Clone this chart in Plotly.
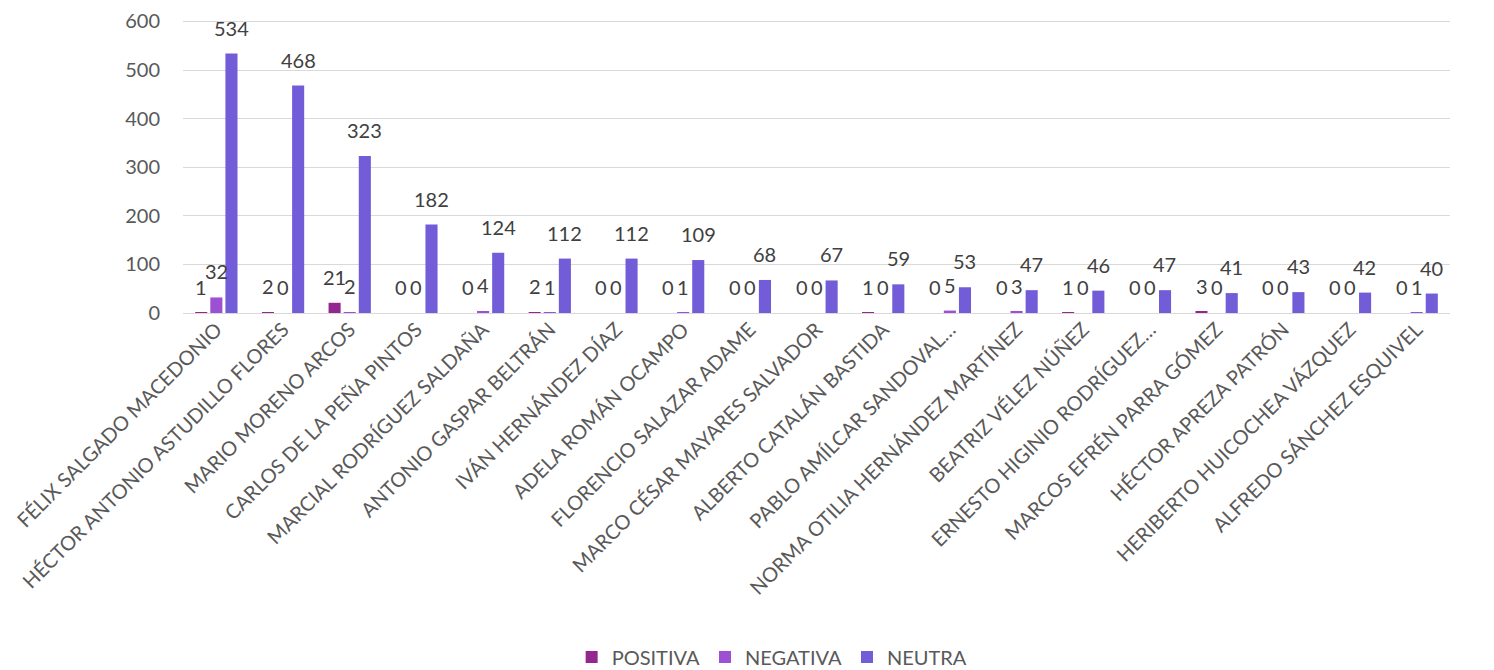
import plotly.graph_objects as go

categories = [
    "FÉLIX SALGADO MACEDONIO",
    "HÉCTOR ANTONIO ASTUDILLO FLORES",
    "MARIO MORENO ARCOS",
    "CARLOS DE LA PEÑA PINTOS",
    "MARCIAL RODRÍGUEZ SALDAÑA",
    "ANTONIO GASPAR BELTRÁN",
    "IVÁN HERNÁNDEZ DÍAZ",
    "ADELA ROMÁN OCAMPO",
    "FLORENCIO SALAZAR ADAME",
    "MARCO CÉSAR MAYARES SALVADOR",
    "ALBERTO CATALÁN BASTIDA",
    "PABLO AMÍLCAR SANDOVAL…",
    "NORMA OTILIA HERNÁNDEZ MARTÍNEZ",
    "BEATRIZ VÉLEZ NÚÑEZ",
    "ERNESTO HIGINIO RODRÍGUEZ…",
    "MARCOS EFRÉN PARRA GÓMEZ",
    "HÉCTOR APREZA PATRÓN",
    "HERIBERTO HUICOCHEA VÁZQUEZ",
    "ALFREDO SÁNCHEZ ESQUIVEL",
]
positiva = [1, 2, 21, 0, 0, 2, 0, 0, 0, 0, 1, 0, 0, 1, 0, 3, 0, 0, 0]
negativa = [32, 0, 2, 0, 4, 1, 0, 1, 0, 0, 0, 5, 3, 0, 0, 0, 0, 0, 1]
neutra = [534, 468, 323, 182, 124, 112, 112, 109, 68, 67, 59, 53, 47, 46, 47, 41, 43, 42, 40]
y_ticks = [0, 100, 200, 300, 400, 500, 600]

series = [
    ("POSITIVA", positiva, "#93278f", -15),
    ("NEGATIVA", negativa, "#9c51d4", 0),
    ("NEUTRA", neutra, "#735cd8", 15),
]

FONT = "Lato, 'Open Sans', sans-serif"
TXT = "#595959"

fig = go.Figure()
annotations = []
for name, vals, color, xs in series:
    fig.add_trace(go.Bar(
        name=name, x=categories, y=vals,
        marker=dict(color=color, line=dict(width=0)),
    ))
    for c, v in zip(categories, vals):
        annotations.append(dict(
            x=c, y=v, xref="x", yref="y", text=str(v), showarrow=False,
            xshift=xs, yshift=26, yanchor="middle",
            font=dict(family=FONT, size=20, color="#404040"),
        ))

fig.update_layout(
    width=1486, height=662,
    paper_bgcolor="white", plot_bgcolor="white",
    margin=dict(l=175, r=44, t=12, b=357, autoexpand=False),
    barmode="group", bargap=0.32, bargroupgap=0.2,
    font=dict(family=FONT, size=20, color=TXT),
    annotations=annotations,
    legend=dict(orientation="h", x=0.465, xanchor="center", y=-1.174, yanchor="middle",
                font=dict(family=FONT, size=20, color=TXT),
                traceorder="normal", itemwidth=30),
    showlegend=True,
)
fig.update_yaxes(range=[0, 603], tickmode="array", tickvals=y_ticks,
                 ticktext=[str(t) for t in y_ticks],
                 showgrid=True, gridcolor="#d9d9d9", gridwidth=1.3,
                 zeroline=True, zerolinecolor="#d9d9d9", zerolinewidth=1.3,
                 tickfont=dict(family=FONT, size=20, color=TXT), ticks="", ticklen=0,
                 ticklabelstandoff=22, ticklabeloverflow="allow",
                 showline=False, automargin=False)
fig.update_xaxes(tickangle=-45, tickfont=dict(family=FONT, size=20, color=TXT),
                 showline=False, ticks="", automargin=False, ticklabeloverflow="allow")

fig.write_html("out.html")
